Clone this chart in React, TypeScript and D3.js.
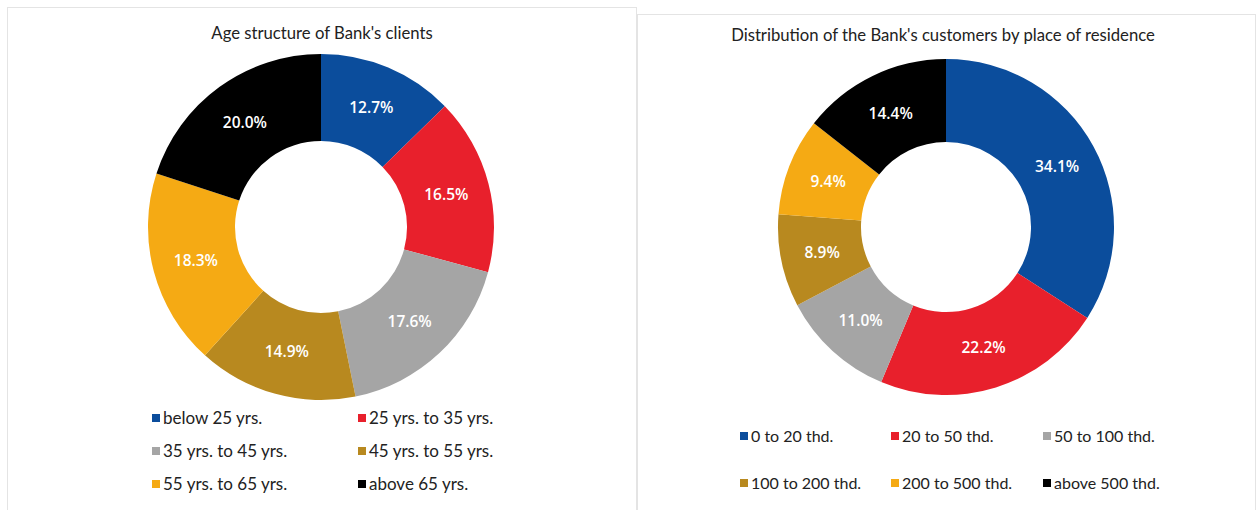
import React from "react";
import * as d3 from "d3";

const ageLabels = ["below 25 yrs.", "25 yrs. to 35 yrs.", "35 yrs. to 45 yrs.", "45 yrs. to 55 yrs.", "55 yrs. to 65 yrs.", "above 65 yrs."];
const ageValues = [12.7, 16.5, 17.6, 14.9, 18.3, 20.0];

const placeLabels = ["0 to 20 thd.", "20 to 50 thd.", "50 to 100 thd.", "100 to 200 thd.", "200 to 500 thd.", "above 500 thd."];
const placeValues = [34.1, 22.2, 11.0, 8.9, 9.4, 14.4];

const colors = ["#0b4d9c", "#e8202c", "#a5a5a5", "#b8891f", "#f5aa14", "#000000"];

const titleFont = "Lato, 'Noto Sans', sans-serif";
const labelFont = "'Open Sans', 'Noto Sans', sans-serif";

type DonutProps = {
  title: string;
  values: number[];
  labels: string[];
  cx: number;
  cy: number;
  outer: number;
  inner: number;
  titleX: number;
  titleY: number;
  legendX: number[];
  legendY: number[];
  legendSize: number;
  cols: number;
};

function Donut(p: DonutProps) {
  const pie = d3.pie<number>().sort(null).value((d) => d);
  const arcs = pie(p.values);
  const arc = d3.arc<d3.PieArcDatum<number>>().innerRadius(p.inner).outerRadius(p.outer);
  const fmt = d3.format(".1f");

  return (
    <g>
      <text x={p.titleX} y={p.titleY} textAnchor="middle" fontFamily={titleFont} fontSize={16.7} fill="#222">
        {p.title}
      </text>
      <g transform={`translate(${p.cx},${p.cy})`}>
        {arcs.map((a, i) => (
          <path key={i} d={arc(a) || ""} fill={colors[i]} />
        ))}
        {arcs.map((a, i) => {
          const [x, y] = arc.centroid(a);
          return (
            <text key={"l" + i} x={x} y={y} dy="0.35em" textAnchor="middle" fontFamily={labelFont}
              fontWeight={600} fontSize={15.5} fill="#fff">
              {fmt(a.data) + "%"}
            </text>
          );
        })}
      </g>
      {p.labels.map((l, i) => {
        const x = p.legendX[i % p.cols];
        const y = p.legendY[Math.floor(i / p.cols)];
        return (
          <g key={"g" + i}>
            <rect x={x} y={y - 4} width={8} height={8} fill={colors[i]} />
            <text x={x + 11} y={y} dy="0.35em" fontFamily={titleFont} fontSize={p.legendSize} fill="#222">
              {l}
            </text>
          </g>
        );
      })}
    </g>
  );
}

export default function App() {
  return (
    <svg width={1259} height={510} style={{ position: "absolute", left: 0, top: 0, background: "#fff" }}>
      <rect x={7.5} y={7.5} width={629} height={510} fill="none" stroke="#e4e4e4" />
      <rect x={637.5} y={14.5} width={618} height={510} fill="none" stroke="#e4e4e4" />
      <Donut
        title="Age structure of Bank's clients"
        values={ageValues}
        labels={ageLabels}
        cx={321}
        cy={227}
        outer={173}
        inner={86}
        titleX={322}
        titleY={39}
        legendX={[152, 358]}
        legendY={[418, 451, 484]}
        legendSize={17}
        cols={2}
      />
      <Donut
        title="Distribution of the Bank's customers by place of residence"
        values={placeValues}
        labels={placeLabels}
        cx={946}
        cy={227}
        outer={168}
        inner={85}
        titleX={943}
        titleY={41}
        legendX={[740, 891, 1043]}
        legendY={[436, 483]}
        legendSize={16}
        cols={3}
      />
    </svg>
  );
}
